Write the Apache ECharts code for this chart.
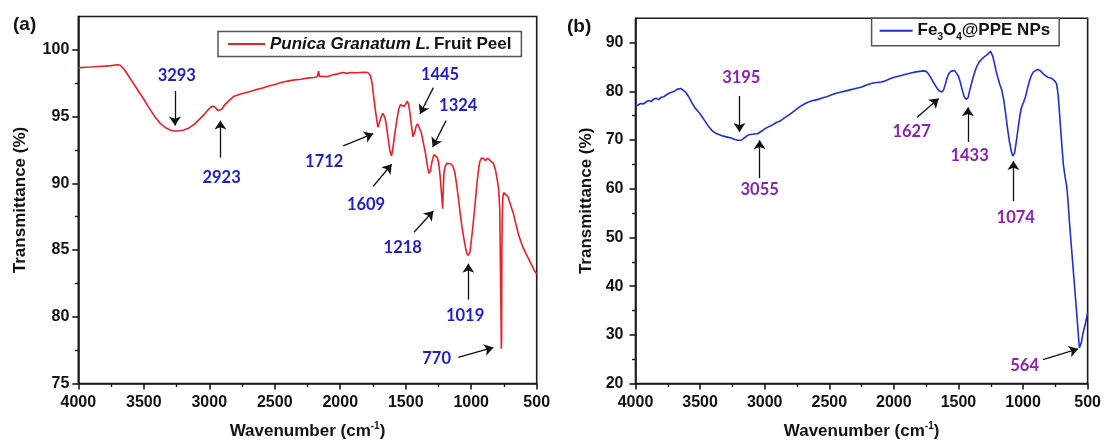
<!DOCTYPE html>
<html>
<head>
<meta charset="utf-8">
<script src="https://cdn.jsdelivr.net/npm/echarts@6/dist/echarts.min.js"></script>
<style>
  html, body { margin: 0; padding: 0; background: #fff; }
  #chart { width: 1104px; height: 445px; }
</style>
</head>
<body>
<div id="chart"></div>
<script>
// ---- (a) Punica Granatum L. fruit peel FT-IR spectrum ----
const wnA = [4000, 3950, 3900, 3850, 3800, 3750, 3700, 3680, 3650, 3620, 3580, 3540, 3500, 3460, 3420, 3380, 3340, 3300, 3270, 3240, 3200, 3160, 3120, 3080, 3040, 3000, 2975, 2955, 2935, 2920, 2905, 2880, 2850, 2815, 2760, 2700, 2650, 2600, 2550, 2500, 2450, 2400, 2350, 2300, 2250, 2200, 2175, 2165, 2158, 2140, 2100, 2060, 2020, 1980, 1950, 1920, 1880, 1850, 1820, 1790, 1770, 1755, 1745, 1732, 1722, 1712, 1700, 1690, 1675, 1662, 1650, 1635, 1620, 1609, 1598, 1585, 1570, 1555, 1540, 1525, 1512, 1500, 1488, 1478, 1468, 1457, 1445, 1432, 1420, 1410, 1398, 1380, 1365, 1350, 1338, 1324, 1312, 1300, 1285, 1272, 1260, 1248, 1238, 1230, 1224, 1218, 1214, 1208, 1198, 1185, 1170, 1155, 1140, 1125, 1110, 1098, 1085, 1070, 1055, 1040, 1028, 1019, 1010, 998, 985, 972, 958, 946, 935, 922, 905, 890, 875, 860, 845, 830, 815, 800, 790, 782, 776, 772, 770, 768, 766, 763, 758, 752, 740, 720, 700, 680, 660, 640, 620, 600, 580, 560, 540, 520, 500];
const tA = [98.65, 98.7, 98.72, 98.75, 98.78, 98.82, 98.88, 98.85, 98.55, 98.1, 97.5, 96.9, 96.3, 95.65, 95.05, 94.55, 94.2, 94.0, 93.92, 93.92, 93.98, 94.12, 94.38, 94.75, 95.15, 95.6, 95.78, 95.7, 95.45, 95.4, 95.55, 95.9, 96.2, 96.5, 96.7, 96.85, 97.0, 97.12, 97.28, 97.4, 97.55, 97.66, 97.75, 97.8, 97.88, 97.93, 97.98, 98.4, 98.0, 98.02, 97.98, 98.12, 98.2, 98.3, 98.24, 98.3, 98.28, 98.3, 98.32, 98.3, 98.1, 97.4, 96.5, 95.5, 94.8, 94.2, 94.3, 94.9, 95.25, 95.0, 94.5, 93.4, 92.4, 92.05, 92.6, 93.6, 94.6, 95.5, 95.9, 95.95, 95.75, 95.95, 96.15, 95.9, 95.3, 94.4, 93.5, 93.8, 94.3, 94.45, 94.2, 93.75, 93.0, 92.3, 91.5, 90.75, 90.9, 91.6, 92.15, 92.1, 91.95, 91.5, 90.6, 89.6, 88.9, 88.1, 89.4, 90.8, 91.3, 91.5, 91.6, 91.45, 91.3, 90.8, 89.8, 88.9, 87.8, 86.7, 85.8, 85.0, 84.6, 84.5, 84.8, 85.8, 87.0, 88.3, 89.8, 90.9, 91.6, 91.9, 91.85, 91.7, 91.9, 91.75, 91.75, 91.5, 91.0, 90.2, 89.5, 88.0, 83.0, 79.5, 77.6, 78.2, 84.8, 87.6, 89.0, 89.3, 89.3, 89.0, 88.4, 87.8, 87.0, 86.2, 85.6, 85.1, 84.7, 84.3, 83.9, 83.5, 83.2];
const peaksA = [3293, 2923, 1712, 1609, 1445, 1324, 1218, 1019, 770];

// ---- (b) Fe3O4@PPE nanoparticles FT-IR spectrum ----
const wnB = [4000, 3980, 3960, 3940, 3920, 3900, 3880, 3860, 3840, 3820, 3800, 3780, 3760, 3740, 3720, 3700, 3680, 3665, 3650, 3635, 3620, 3600, 3580, 3560, 3540, 3520, 3500, 3470, 3440, 3410, 3380, 3350, 3320, 3290, 3260, 3230, 3210, 3195, 3180, 3160, 3140, 3120, 3100, 3080, 3055, 3040, 3020, 3000, 2970, 2940, 2910, 2880, 2850, 2820, 2790, 2760, 2730, 2700, 2670, 2640, 2610, 2580, 2550, 2520, 2490, 2460, 2430, 2400, 2370, 2340, 2310, 2280, 2250, 2220, 2190, 2160, 2130, 2100, 2070, 2040, 2010, 1980, 1950, 1920, 1890, 1860, 1830, 1800, 1770, 1750, 1730, 1710, 1690, 1670, 1650, 1627, 1615, 1600, 1588, 1575, 1560, 1545, 1530, 1515, 1500, 1485, 1470, 1455, 1442, 1433, 1425, 1415, 1400, 1385, 1370, 1355, 1340, 1320, 1300, 1280, 1265, 1252, 1245, 1235, 1222, 1210, 1195, 1180, 1165, 1150, 1135, 1120, 1105, 1090, 1080, 1074, 1066, 1055, 1043, 1030, 1018, 1008, 995, 980, 965, 950, 935, 920, 905, 888, 870, 855, 840, 825, 810, 795, 780, 765, 750, 740, 728, 715, 700, 688, 675, 662, 652, 642, 630, 618, 606, 594, 582, 572, 564, 556, 548, 540, 530, 520, 510, 500];
const tB = [77.0, 77.2, 77.5, 77.4, 77.8, 78.1, 77.9, 78.4, 78.6, 78.3, 78.8, 78.9, 79.3, 79.6, 79.8, 80.0, 80.4, 80.2, 80.6, 80.3, 80.0, 79.4, 78.5, 77.5, 76.6, 76.0, 75.4, 74.2, 73.0, 72.0, 71.4, 71.1, 70.8, 70.6, 70.4, 70.1, 69.95, 69.9, 70.0, 70.4, 70.8, 71.1, 71.2, 71.25, 71.3, 71.45, 71.9, 72.3, 72.7, 73.1, 73.6, 73.9, 74.5, 75.0, 75.6, 76.2, 76.8, 77.3, 77.7, 78.0, 78.2, 78.4, 78.7, 78.9, 79.2, 79.5, 79.7, 79.9, 80.1, 80.3, 80.5, 80.7, 80.9, 81.2, 81.5, 81.7, 81.8, 81.9, 82.1, 82.5, 82.8, 83.0, 83.2, 83.4, 83.6, 83.8, 84.0, 84.1, 84.2, 84.1, 83.5, 82.6, 81.7, 80.8, 80.1, 79.85, 80.3, 81.6, 82.8, 83.6, 84.1, 84.35, 84.3, 83.9, 83.1, 81.8, 80.2, 78.9, 78.35, 78.2, 78.7, 80.0, 81.5, 83.0, 84.3, 85.3, 86.0, 86.6, 87.1, 87.5, 87.9, 88.2, 88.0, 87.3, 85.8, 84.3, 82.8, 81.4, 80.3, 78.3, 75.5, 72.3, 69.6, 67.6, 66.7, 66.5, 67.3, 69.2, 71.5, 74.0, 76.0, 77.0, 77.8, 79.0, 80.7, 82.2, 83.3, 84.0, 84.4, 84.5, 84.3, 83.9, 83.5, 83.2, 82.9, 83.0, 82.7, 82.3, 82.0, 81.5, 79.2, 74.5, 69.0, 65.0, 62.5, 60.5, 57.5, 53.5, 49.5, 45.5, 41.5, 37.5, 33.5, 30.0, 27.3, 27.4, 28.5, 29.8, 31.0, 32.0, 33.3, 34.5];
const peaksB = [3195, 3055, 1627, 1433, 1074, 564];

// Axis ticks
const xTicks = [500, 1000, 1500, 2000, 2500, 3000, 3500, 4000];
const yTicksA = [75, 80, 85, 90, 95, 100];
const yMinorA = [77.5, 82.5, 87.5, 92.5, 97.5];
const yTicksB = [20, 30, 40, 50, 60, 70, 80, 90];
const yMinorB = [25, 35, 45, 55, 65, 75, 85];

// Annotation placement (in data units): label centre, arrow tail, arrow head
const labelPosA = [[3248, 98.03], [2906, 90.39], [2122, 91.63], [1803, 88.42], [1238, 98.15], [1099, 95.81], [1523, 85.17], [1047, 80.1], [1264, 76.84]];
const arrowsA = [
  [[3262, 96.92], [3262, 94.33]], [[2915, 91.92], [2915, 94.7]], [[1977, 92.81], [1748, 93.72]],
  [[1748, 89.78], [1607, 91.43]], [[1289, 97.17], [1391, 95.2]], [[1192, 94.7], [1294, 92.73]],
  [[1437, 86.33], [1289, 87.93]], [[1022, 81.28], [1022, 83.98]], [[1099, 76.96], [831, 77.7]]
];
const labelPosB = [[3181, 82.79], [3039, 59.82], [1863, 71.65], [1414, 66.79], [1057, 54.09], [988, 23.7]];
const arrowsB = [
  [[3195, 79.06], [3195, 71.65]], [[3039, 62.19], [3039, 69.95]], [[1820, 74.69], [1653, 78.54]],
  [[1427, 69.62], [1427, 76.71]], [[1075, 57.47], [1075, 65.69]], [[846, 24.9], [574, 27.1]]
];

const SANS = '"Liberation Sans", Arial, sans-serif';
const LABEL_FONT = 'Lato, "Open Sans", sans-serif';
const AXIS_COLOR = '#1a1a1a';

function pairs(xs, ys) { return xs.map((x, i) => [x, ys[i]]); }

function xAxisFor(gridIndex) {
  return {
    type: 'value', gridIndex, inverse: true, min: 500, max: 4000, interval: 500,
    axisLine: { show: true, onZero: false, lineStyle: { color: AXIS_COLOR, width: 1.6 } },
    axisTick: { show: true, length: 6, lineStyle: { color: AXIS_COLOR, width: 1.6 } },
    minorTick: { show: true, splitNumber: 2, length: 3.5, lineStyle: { color: AXIS_COLOR, width: 1.4 } },
    splitLine: { show: false },
    axisLabel: { fontSize: 16, fontWeight: 'bold', color: '#111', fontFamily: SANS, margin: 11,
      customValues: xTicks, formatter: (v) => String(v) },
    name: '{a|Wavenumber (cm}{s|-1}{a|)}',
    nameLocation: 'middle', nameGap: 38,
    nameTextStyle: {
      rich: {
        a: { fontSize: 17, fontWeight: 'bold', fontFamily: SANS, color: '#111', lineHeight: 20 },
        s: { fontSize: 10, fontWeight: 'bold', fontFamily: SANS, color: '#111', lineHeight: 10, verticalAlign: 'top' }
      }
    }
  };
}

function yAxisFor(gridIndex, min, max, ticks, margin, nameGap) {
  return {
    type: 'value', gridIndex, min, max,
    axisLine: { show: true, onZero: false, lineStyle: { color: AXIS_COLOR, width: 1.6 } },
    axisTick: { show: true, length: 6, customValues: ticks, lineStyle: { color: AXIS_COLOR, width: 1.6 } },
    splitLine: { show: false },
    axisLabel: { fontSize: 16, fontWeight: 'bold', color: '#111', fontFamily: SANS, margin, customValues: ticks,
      formatter: (v) => String(v) },
    name: 'Transmittance (%)', nameLocation: 'middle', nameGap,
    nameTextStyle: { fontSize: 17, fontWeight: 'bold', fontFamily: SANS, color: '#111' }
  };
}

function yMinorAxisFor(gridIndex, min, max, ticks) {
  return {
    type: 'value', gridIndex, min, max, position: 'left',
    axisLine: { show: false },
    axisTick: { show: true, length: 3.5, customValues: ticks, lineStyle: { color: AXIS_COLOR, width: 1.4 } },
    splitLine: { show: false },
    axisLabel: { show: false }
  };
}

function labelSeries(name, xi, yi, peaks, pos, arrows, color) {
  return {
    name, type: 'scatter', xAxisIndex: xi, yAxisIndex: yi, silent: true,
    symbolSize: 0, z: 5,
    itemStyle: { opacity: 1, color },
    data: peaks.map((p, i) => ({ value: [pos[i][0], pos[i][1]], text: String(p) })),
    label: {
      show: true, position: 'inside',
      formatter: (d) => d.data.text,
      fontFamily: LABEL_FONT, fontWeight: 'bold', fontSize: 16.5, color
    },
    markLine: {
      silent: true, animation: false,
      symbol: ['none', 'arrow'], symbolSize: 9,
      lineStyle: { color: '#111', width: 1.3, type: 'solid', opacity: 1 },
      itemStyle: { color: '#111' },
      label: { show: false },
      data: arrows.map(a => [{ coord: a[0] }, { coord: a[1] }])
    }
  };
}

const legendBase = {
  borderColor: '#555', borderWidth: 1.5, backgroundColor: '#fff',
  icon: 'rect', itemHeight: 2, itemGap: 0
};

const chart = echarts.init(document.getElementById('chart'), null, { renderer: 'canvas' });

chart.setOption({
  animation: false,
  backgroundColor: '#fff',
  grid: [
    { left: 78.3, top: 16.5, width: 458.4, height: 371.8, show: true, borderColor: AXIS_COLOR, borderWidth: 1.6, backgroundColor: 'transparent' },
    { left: 635.5, top: 18.3, width: 454.1, height: 370, show: true, borderColor: AXIS_COLOR, borderWidth: 1.6, backgroundColor: 'transparent' }
  ],
  xAxis: [xAxisFor(0), xAxisFor(1)],
  yAxis: [
    yAxisFor(0, 75, 102.5, yTicksA, 9, 49),
    yAxisFor(1, 20, 95, yTicksB, 12, 41),
    yMinorAxisFor(0, 75, 102.5, yMinorA),
    yMinorAxisFor(1, 20, 95, yMinorB)
  ],
  legend: [
    Object.assign({}, legendBase, {
      data: ['Punica Granatum L. Fruit Peel'],
      left: 218, top: 31.5, padding: [4, 10, 4, 10],
      itemWidth: 37,
      formatter: () => '{i|Punica Granatum L.} {b|Fruit Peel}',
      textStyle: {
        rich: {
          i: { fontSize: 17, fontWeight: 'bold', fontStyle: 'italic', fontFamily: SANS, color: '#111' },
          b: { fontSize: 17, fontWeight: 'bold', fontFamily: SANS, color: '#111' }
        }
      }
    }),
    Object.assign({}, legendBase, {
      data: ['Fe3O4@PPE NPs'],
      left: 871.6, top: 18.3, padding: [4, 9, 4, 8],
      itemWidth: 33,
      formatter: () => '{b|Fe}{s|3}{b|O}{s|4}{b|@PPE NPs}',
      textStyle: {
        rich: {
          b: { fontSize: 17, fontWeight: 'bold', fontFamily: SANS, color: '#111', lineHeight: 22 },
          s: { fontSize: 10, fontWeight: 'bold', fontFamily: SANS, color: '#111', lineHeight: 10, verticalAlign: 'bottom' }
        }
      }
    })
  ],
  graphic: [
    { type: 'text', left: 13, top: 15, style: { text: '(a)', font: 'bold 19px ' + SANS, fill: '#111' } },
    { type: 'text', left: 567, top: 17, style: { text: '(b)', font: 'bold 19px ' + SANS, fill: '#111' } }
  ],
  series: [
    {
      name: 'Punica Granatum L. Fruit Peel', type: 'line', xAxisIndex: 0, yAxisIndex: 0,
      data: pairs(wnA, tA), symbol: 'none', showSymbol: false,
      lineStyle: { color: '#e8202a', width: 1.6 }, itemStyle: { color: '#e8202a' }, z: 3
    },
    {
      name: 'Fe3O4@PPE NPs', type: 'line', xAxisIndex: 1, yAxisIndex: 1,
      data: pairs(wnB, tB), symbol: 'none', showSymbol: false,
      lineStyle: { color: '#1f2fd2', width: 1.6 }, itemStyle: { color: '#1f2fd2' }, z: 3
    },
    labelSeries('peaks a', 0, 0, peaksA, labelPosA, arrowsA, '#1e1ec8'),
    labelSeries('peaks b', 1, 1, peaksB, labelPosB, arrowsB, '#8a22b4')
  ]
});
</script>
</body>
</html>
